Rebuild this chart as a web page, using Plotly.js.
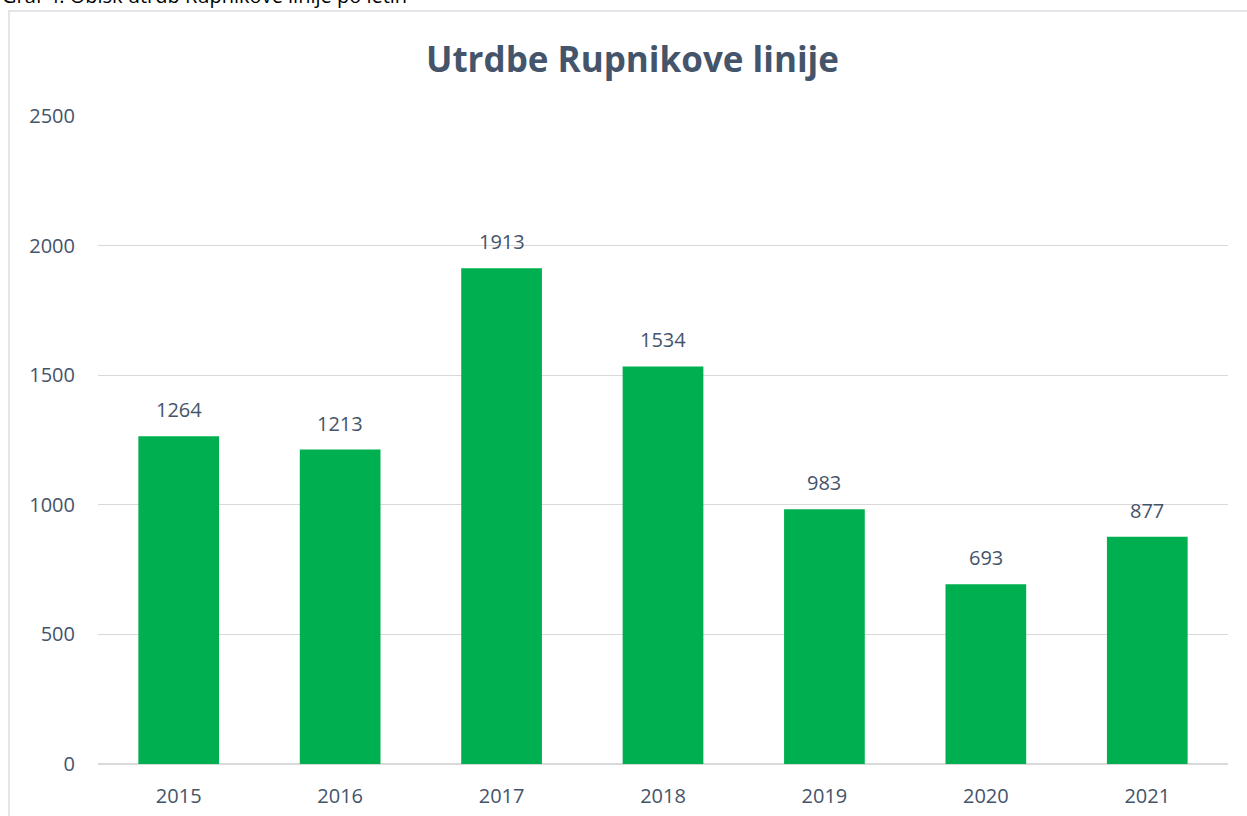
<!DOCTYPE html>
<html>
<head>
<meta charset="utf-8">
<script src="https://cdn.plot.ly/plotly-3.0.1.min.js"></script>
<style>html,body{margin:0;padding:0;background:#fff;overflow:hidden}#chart{width:1247px;height:816px}</style>
</head>
<body>
<div id="chart"></div>
<script>
const years = ['2015', '2016', '2017', '2018', '2019', '2020', '2021'];
const visitors = [1264, 1213, 1913, 1534, 983, 693, 877];
const yTicks = [0, 500, 1000, 1500, 2000, 2500];
const chartTitle = 'Utrdbe Rupnikove linije';
const caption = 'Graf 4: Obisk utrdb Rupnikove linije po letih';

const txtColor = '#44546a';
const fontFam = '"Open Sans", "Noto Sans", sans-serif';

const labelAnnotations = years.map((y, i) => ({
  x: i, y: visitors[i], xref: 'x', yref: 'y',
  text: String(visitors[i]), showarrow: false,
  yanchor: 'bottom', yshift: 11,
  font: {family: fontFam, size: 20, color: txtColor}
}));

const trace = {
  type: 'bar', x: years, y: visitors,
  marker: {color: '#00b050'}, width: 0.5, hoverinfo: 'x+y'
};

const layout = {
  width: 1247, height: 816,
  margin: {l: 98, r: 19, t: 116, b: 52},
  paper_bgcolor: '#ffffff', plot_bgcolor: '#ffffff',
  showlegend: false,
  title: {text: '<b>' + chartTitle + '</b>', x: 0.473, xref: 'paper', xanchor: 'center',
          y: 1 - 60 / 816, yref: 'container', yanchor: 'middle',
          font: {family: fontFam, size: 35, color: txtColor}},
  xaxis: {type: 'category', categoryorder: 'array', categoryarray: years,
          range: [-0.5, years.length - 0.5], autorange: false,
          showgrid: false, showline: false, zeroline: false,
          ticks: '', ticklabelstandoff: 18,
          tickfont: {family: fontFam, size: 20, color: txtColor}},
  yaxis: {range: [0, 2500], autorange: false, tickvals: yTicks, ticktext: yTicks.map(String),
          showgrid: true, gridcolor: '#d9d9d9', gridwidth: 1,
          zeroline: true, zerolinecolor: '#d9d9d9', zerolinewidth: 1.5,
          showline: false, ticks: '', ticklabelstandoff: 22,
          tickfont: {family: fontFam, size: 20, color: txtColor}},
  shapes: [{type: 'rect', xref: 'paper', yref: 'paper',
            x0: (9 - 98) / 1130, x1: 1.2, y0: -0.5, y1: (764 - 11) / 648,
            line: {color: '#d9dde3', width: 1.5}, fillcolor: 'rgba(0,0,0,0)', layer: 'below'}],
  annotations: labelAnnotations.concat([{
    xref: 'paper', yref: 'paper', x: (0 - 98) / 1130, y: (764 - 11) / 648,
    xanchor: 'left', yanchor: 'bottom', showarrow: false, text: caption,
    font: {family: fontFam, size: 20, color: '#000000'}
  }])
};

Plotly.newPlot('chart', [trace], layout, {displayModeBar: false, staticPlot: true});
</script>
</body>
</html>
